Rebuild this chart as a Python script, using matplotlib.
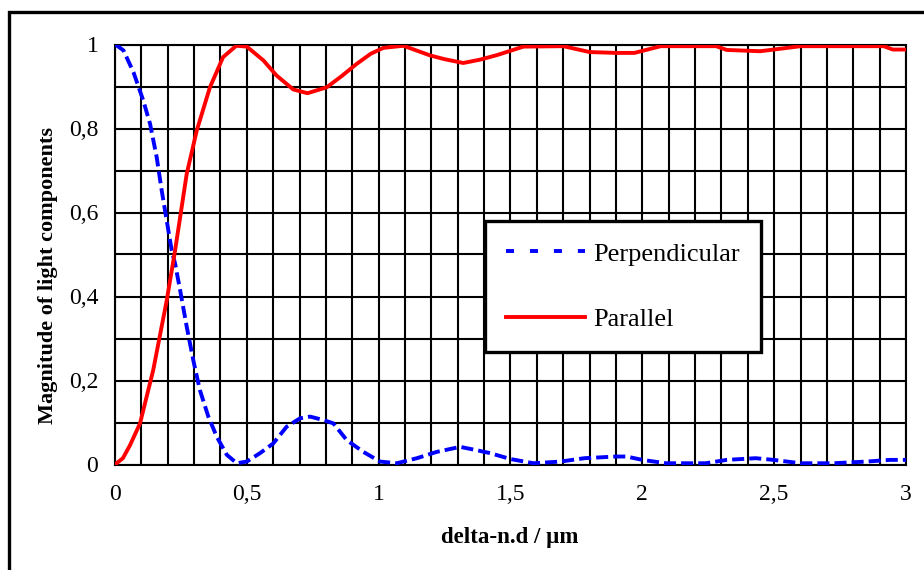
import matplotlib
matplotlib.use("Agg")
import matplotlib.pyplot as plt
from matplotlib.lines import Line2D
from matplotlib.patches import Rectangle
from matplotlib.ticker import MultipleLocator, FixedLocator

plt.rcParams['font.family'] = ['Liberation Serif', 'DejaVu Serif']

# values
par_x = [0.0, 0.03, 0.057, 0.095, 0.145, 0.196, 0.228, 0.272, 0.31, 0.36, 0.41,
         0.46, 0.50, 0.563, 0.613, 0.676, 0.73, 0.803, 0.86, 0.917, 0.97, 1.018,
         1.094, 1.195, 1.25, 1.321, 1.385, 1.45, 1.549, 1.70, 1.80, 1.90, 1.97,
         2.07, 2.28, 2.32, 2.447, 2.55, 2.60, 2.915, 2.95, 3.0]
par_y = [0.0, 0.015, 0.046, 0.098, 0.225, 0.39, 0.51, 0.692, 0.795, 0.898, 0.97,
         0.997, 0.995, 0.962, 0.926, 0.893, 0.884, 0.898, 0.925, 0.954, 0.978, 0.992,
         0.997, 0.974, 0.965, 0.956, 0.964, 0.975, 0.995, 0.996, 0.982, 0.98, 0.98,
         0.996, 0.996, 0.987, 0.984, 0.992, 0.996, 0.996, 0.988, 0.988]

perp_x = [0.0, 0.006, 0.032, 0.07, 0.107, 0.133, 0.158, 0.177, 0.196, 0.215, 0.228,
          0.247, 0.272, 0.297, 0.322, 0.354, 0.386, 0.424, 0.462, 0.50, 0.55, 0.60,
          0.651, 0.702, 0.74, 0.79, 0.828, 0.879, 0.942, 1.005, 1.069, 1.145, 1.22,
          1.309, 1.372, 1.423, 1.50, 1.587, 1.69, 1.78, 1.84, 1.90, 1.94, 2.0, 2.09,
          2.24, 2.32, 2.43, 2.497, 2.60, 2.725, 2.85, 2.94, 3.0]
perp_y = [1.0, 0.998, 0.986, 0.934, 0.867, 0.811, 0.732, 0.653, 0.581, 0.51, 0.478,
          0.415, 0.328, 0.248, 0.177, 0.114, 0.066, 0.023, 0.003, 0.007, 0.027, 0.05,
          0.09, 0.11, 0.114, 0.106, 0.098, 0.058, 0.030, 0.007, 0.003, 0.015, 0.030,
          0.042, 0.034, 0.027, 0.013, 0.003, 0.007, 0.015, 0.017, 0.019, 0.019, 0.011, 0.003,
          0.003, 0.011, 0.015, 0.011, 0.003, 0.003, 0.007, 0.011, 0.011]

x_ticks = [0, 0.5, 1, 1.5, 2, 2.5, 3]
x_labels = ["0", "0,5", "1", "1,5", "2", "2,5", "3"]
y_ticks = [0, 0.2, 0.4, 0.6, 0.8, 1]
y_labels = ["0", "0,2", "0,4", "0,6", "0,8", "1"]

fig = plt.figure(figsize=(9.24, 5.70), dpi=100)
ax = fig.add_axes([115 / 924, 1 - 464.5 / 570, 791 / 924, 420 / 570])

ax.plot(perp_x, perp_y, color="#0000ff", lw=2.8, dashes=(3.1, 1.3), zorder=3)
ax.plot(par_x, par_y, color="#ff0000", lw=2.8, zorder=4)

ax.set_xlim(0, 3)
ax.set_ylim(0, 1)
ax.xaxis.set_major_locator(FixedLocator(x_ticks))
ax.yaxis.set_major_locator(FixedLocator(y_ticks))
ax.set_xticklabels(x_labels)
ax.set_yticklabels(y_labels)
ax.xaxis.set_minor_locator(MultipleLocator(0.1))
ax.yaxis.set_minor_locator(MultipleLocator(0.1))
ax.grid(True, which="both", color="black", lw=1.5)
ax.set_axisbelow(True)
ax.tick_params(which="both", length=0, labelsize=17)
ax.tick_params(axis="x", pad=14)
ax.tick_params(axis="y", pad=12)
for sp in ax.spines.values():
    sp.set_color("black")
    sp.set_linewidth(1.5)

fig.text(510 / 924, 1 - 537 / 570, "delta-n.d / µm", ha="center", va="center",
         fontsize=16.5, fontweight="bold")
fig.text(48 / 924, 1 - 276 / 570, "Magnitude of light components", ha="center",
         va="center", rotation=90, fontsize=16, fontweight="bold")

h_perp = Line2D([], [], color="#0000ff", lw=2.8, dashes=(2.06, 4.1))
h_par = Line2D([], [], color="#ff0000", lw=2.8)
leg = ax.legend([h_perp, h_par], ["Perpendicular", "Parallel"], loc="upper left",
                bbox_to_anchor=((485 - 115) / 791, (464.5 - 221) / 420),
                fontsize=19, frameon=True, fancybox=False, handlelength=3.0,
                handletextpad=0.3, labelspacing=1.6, borderpad=0.8,
                borderaxespad=0)
leg.get_frame().set_edgecolor("black")
leg.get_frame().set_linewidth(2.4)
leg.get_frame().set_alpha(1)

# outer chart frame, cut off on the right and at the bottom
fig.patches.append(Rectangle((9 / 924, -0.05), 1.0, 1 - 11.5 / 570 + 0.05,
                             transform=fig.transFigure, fill=False,
                             edgecolor="black", lw=2.4))

fig.savefig("out.png", dpi=100)
